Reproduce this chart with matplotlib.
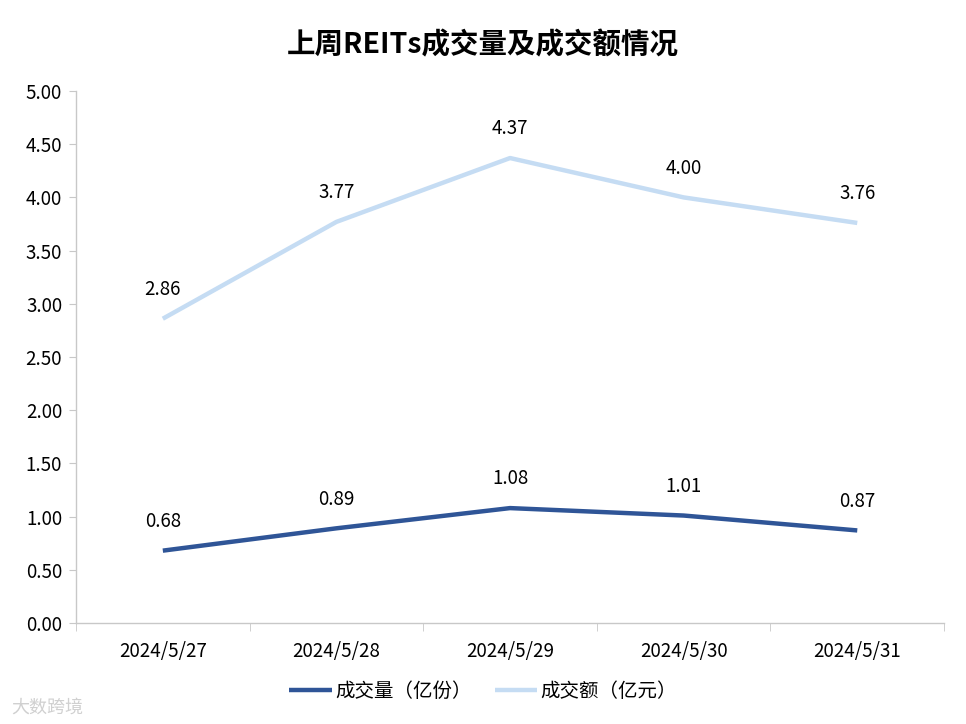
import matplotlib
matplotlib.use("Agg")
import matplotlib.pyplot as plt
from matplotlib.ticker import FixedLocator, MultipleLocator

plt.rcParams["font.family"] = ["Noto Sans CJK SC", "DejaVu Sans"]

dates = ["2024/5/27", "2024/5/28", "2024/5/29", "2024/5/30", "2024/5/31"]
volume = [0.68, 0.89, 1.08, 1.01, 0.87]
amount = [2.86, 3.77, 4.37, 4.00, 3.76]
series_names = ["成交量（亿份）", "成交额（亿元）"]

fig = plt.figure(figsize=(9.66, 7.24), dpi=100)
ax = fig.add_axes([0.0787, 0.1395, 0.8986, 0.7348])

x = list(range(len(dates)))
ax.plot(x, volume, color="#2F5597", lw=3.2, solid_capstyle="butt", label=series_names[0])
ax.plot(x, amount, color="#C5DCF3", lw=3.2, solid_capstyle="butt", label=series_names[1])

for xs, ys in [(x, volume), (x, amount)]:
    for xi, yi in zip(xs, ys):
        ax.annotate(f"{yi:.2f}", (xi, yi), xytext=(0, 21), textcoords="offset points",
                    ha="center", va="center", fontsize=13.5, color="#000000")

ax.set_xlim(-0.5, len(dates) - 0.5)
ax.set_ylim(0, 5)
ax.yaxis.set_major_locator(MultipleLocator(0.5))
ax.set_yticklabels([f"{v:.2f}" for v in ax.get_yticks()])
ax.set_xticks(x)
ax.set_xticklabels(dates)
ax.xaxis.set_minor_locator(FixedLocator([i - 0.5 for i in range(len(dates) + 1)]))

for side in ["top", "right"]:
    ax.spines[side].set_visible(False)
for side in ["left", "bottom"]:
    ax.spines[side].set_color("#C8C8C8")
    ax.spines[side].set_linewidth(1)

ax.tick_params(axis="y", length=5, color="#C8C8C8", labelsize=13.5, pad=5)
ax.tick_params(axis="x", which="major", length=0, labelsize=13.5, pad=13)
ax.tick_params(axis="x", which="minor", length=6, color="#C8C8C8")

fig.text(0.5, 0.938, "上周REITs成交量及成交额情况", ha="center", va="center",
         fontsize=20.5, fontweight="bold")

fig.legend(loc="center", bbox_to_anchor=(0.5, 0.045), ncol=2, frameon=False,
           fontsize=14, handlelength=2.2, columnspacing=1.2, handletextpad=0.15)

fig.text(0.012, 0.023, "大数跨境", fontsize=13, color="#D0D0D0", ha="left", va="center")

fig.savefig("out.png", dpi=100)
